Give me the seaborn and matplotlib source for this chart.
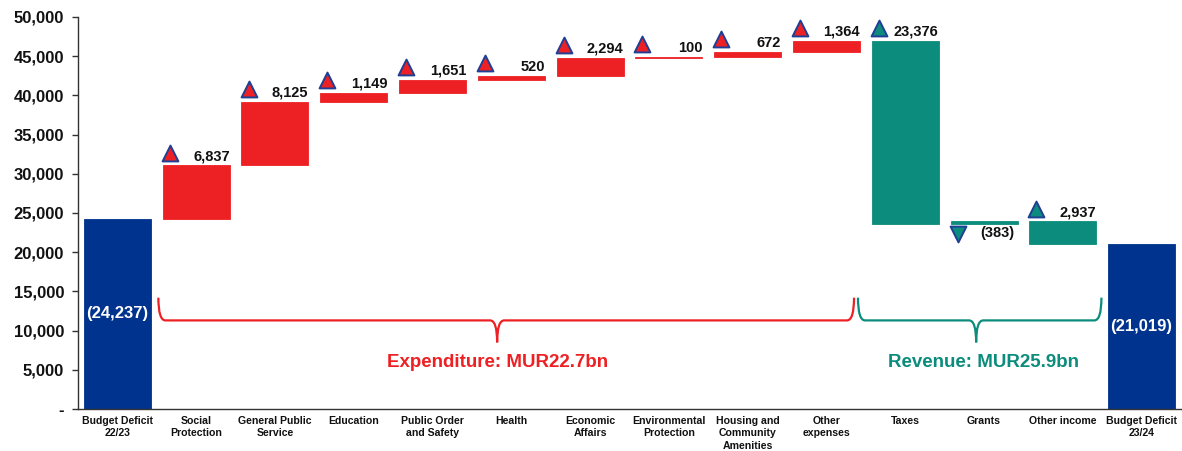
import numpy as np
import pandas as pd
import matplotlib.pyplot as plt
from matplotlib.path import Path
from matplotlib.patches import PathPatch
import seaborn as sns

# categories along the x axis
categories = ["Budget Deficit\n22/23", "Social\nProtection", "General Public\nService",
              "Education", "Public Order\nand Safety", "Health", "Economic\nAffairs",
              "Environmental\nProtection", "Housing and\nCommunity\nAmenities",
              "Other\nexpenses", "Taxes", "Grants", "Other income", "Budget Deficit\n23/24"]

opening_deficit = 24237
closing_deficit = 21019
exp_values = [6837, 8125, 1149, 1651, 520, 2294, 100, 672, 1364]
rev_values = [23376, -383, 2937]

NAVY = "#00338D"
RED = "#ED2124"
TEAL = "#0C8C7C"
EDGE = "#1F3F95"

sns.set_theme(style="white")
plt.rcParams["font.family"] = ["Liberation Sans Narrow", "Liberation Sans", "DejaVu Sans"]
plt.rcParams["font.weight"] = "bold"

# build waterfall table
rows = [dict(cat=categories[0], bottom=0, height=opening_deficit, kind="total", label=f"({opening_deficit:,})")]
level = opening_deficit
for cat, v in zip(categories[1:10], exp_values):
    rows.append(dict(cat=cat, bottom=level, height=v, kind="exp", label=f"{v:,}", up=True))
    level += v
for cat, v in zip(categories[10:13], rev_values):
    new = level - v
    rows.append(dict(cat=cat, bottom=min(level, new), height=abs(v), kind="rev",
                     label=f"{v:,}" if v > 0 else f"({abs(v):,})", up=v > 0))
    level = new
rows.append(dict(cat=categories[13], bottom=0, height=closing_deficit, kind="total", label=f"({closing_deficit:,})"))
df = pd.DataFrame(rows)
df["pos"] = np.arange(len(df))
df["top"] = df["bottom"] + df["height"]

fig = plt.figure(figsize=(11.82, 4.51), dpi=100)
ax = fig.add_axes([78 / 1182, 1 - 409 / 451, 1103 / 1182, 392 / 451])

W = 0.85
for kind, color in [("total", NAVY), ("exp", RED), ("rev", TEAL)]:
    sub = df[df["kind"] == kind]
    sns.barplot(data=sub, x="cat", y="height", order=categories, bottom=sub["bottom"].to_numpy(),
                color=color, saturation=1, width=W, errorbar=None, ax=ax,
                edgecolor=color, linewidth=0.6)

# triangles and value labels
chg = df[df["kind"] != "total"]
for kind, fc in [("exp", RED), ("rev", TEAL)]:
    s = chg[chg["kind"] == kind]
    up = s[s["up"] == True]
    dn = s[s["up"] == False]
    if len(up):
        sns.scatterplot(x=up["pos"] - W / 2 + 0.09, y=up["top"] + 1600, marker="^", s=130,
                        color=fc, edgecolor=EDGE, linewidth=1.4, ax=ax, legend=False, zorder=5)
    if len(dn):
        sns.scatterplot(x=dn["pos"] - W / 2 + 0.09, y=dn["bottom"] - 1300, marker="v", s=130,
                        color=fc, edgecolor=EDGE, linewidth=1.4, ax=ax, legend=False, zorder=5)

for _, r in chg.iterrows():
    if r["up"]:
        ax.text(r["pos"] + W / 2, r["top"] + 250, r["label"], ha="right", va="bottom",
                fontsize=10.5, fontweight="bold", color="#111111")
    else:
        ax.text(r["pos"] + W / 2 - 0.04, r["bottom"] - 1150, r["label"], ha="right", va="center",
                fontsize=10.5, fontweight="bold", color="#111111")

for _, r in df[df["kind"] == "total"].iterrows():
    ax.text(r["pos"], r["height"] / 2, r["label"], ha="center", va="center",
            fontsize=12, fontweight="bold", color="white")


def brace(x0, x1, xm, y_line, y_end, y_tip, color):
    r = 0.09
    verts = [(x0, y_end), (x0, y_line), (x0 + r, y_line),
             (xm - r, y_line), (xm, y_line), (xm, y_tip),
             (xm, y_line), (xm + r, y_line),
             (x1 - r, y_line), (x1, y_line), (x1, y_end)]
    codes = [Path.MOVETO, Path.CURVE3, Path.CURVE3,
             Path.LINETO, Path.CURVE3, Path.CURVE3,
             Path.CURVE3, Path.CURVE3,
             Path.LINETO, Path.CURVE3, Path.CURVE3]
    ax.add_patch(PathPatch(Path(verts, codes), fill=False, edgecolor=color, lw=1.6))


brace(0.52, 9.35, 4.82, 11300, 14200, 8500, RED)
brace(9.40, 12.49, 10.9, 11300, 14200, 8500, TEAL)
ax.text(4.82, 5900, "Expenditure: MUR22.7bn", ha="center", va="center",
        fontsize=13.5, fontweight="bold", color=RED)
ax.text(10.99, 5900, "Revenue: MUR25.9bn", ha="center", va="center",
        fontsize=13.5, fontweight="bold", color=TEAL)

# axes styling
ax.set_xlim(-0.5, len(categories) - 0.5)
ax.set_ylim(0, 50000)
ax.set_xlabel("")
ax.set_ylabel("")
yt = np.arange(0, 50001, 5000)
ax.set_yticks(yt)
ax.set_yticklabels(["-"] + [f"{v:,}" for v in yt[1:]], fontsize=12, fontweight="bold", color="#111111")
ax.set_xticks(np.arange(len(categories)))
ax.set_xticklabels(categories, fontsize=7.6, fontweight="bold", color="#111111", linespacing=1.3)
ax.set_xticks(np.arange(-0.5, len(categories) - 0.5, 1), minor=True)
ax.tick_params(axis="x", which="major", length=0, pad=5)
ax.tick_params(axis="x", which="minor", length=5, width=1, color="#333333", direction="out")
ax.tick_params(axis="y", length=4, width=1, color="#333333", direction="out", left=True, pad=6)
for side in ["top", "right"]:
    ax.spines[side].set_visible(False)
for side in ["left", "bottom"]:
    ax.spines[side].set_color("#333333")
    ax.spines[side].set_linewidth(1)

fig.savefig("out.png", dpi=100)
